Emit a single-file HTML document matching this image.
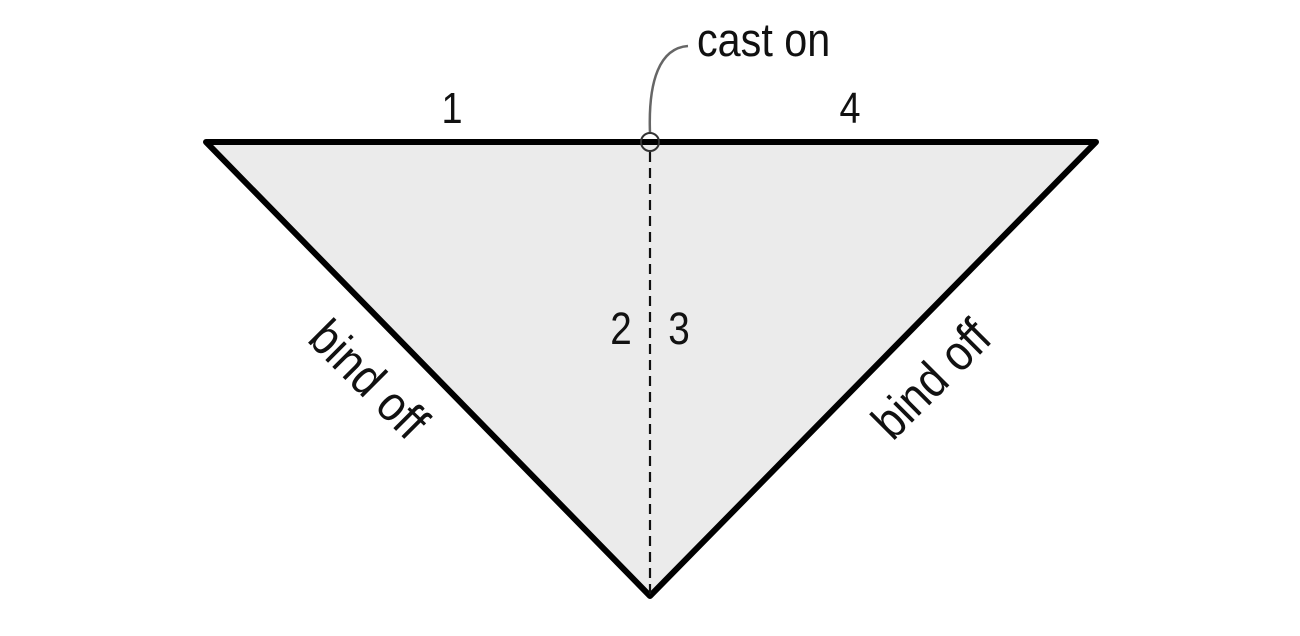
<!DOCTYPE html>
<html><head><meta charset="utf-8"><style>
html,body{margin:0;padding:0;background:#fff;}
svg{display:block;}
text{font-family:"Liberation Sans",sans-serif;fill:#111;}
</style></head><body>
<svg width="1300" height="636" viewBox="0 0 1300 636" xmlns="http://www.w3.org/2000/svg">
<path d="M206,142 L1096,142 L650,596 Z" fill="#ebebeb" stroke="#000" stroke-width="6" stroke-linejoin="round"/>
<line x1="650" y1="152" x2="650" y2="594" stroke="#111" stroke-width="2.2" stroke-dasharray="10,6"/>
<path d="M650,133 C648,80 660,48 688,46" fill="none" stroke="#666" stroke-width="2.5"/>
<circle cx="650" cy="142" r="9" fill="none" stroke="#333" stroke-width="2"/>
<g transform="translate(697,56) scale(0.88,1)"><text x="0" y="0" font-size="47">cast on</text></g>
<g transform="translate(452,123) scale(0.86,1)"><text x="0" y="0" font-size="44" text-anchor="middle">1</text></g>
<g transform="translate(850,123) scale(0.86,1)"><text x="0" y="0" font-size="44" text-anchor="middle">4</text></g>
<g transform="translate(621,344) scale(0.86,1)"><text x="0" y="0" font-size="45" text-anchor="middle">2</text></g>
<g transform="translate(679,344) scale(0.86,1)"><text x="0" y="0" font-size="45" text-anchor="middle">3</text></g>
<g transform="translate(368,380) rotate(45) scale(0.88,1)"><text x="0" y="16" font-size="50" text-anchor="middle">bind off</text></g>
<g transform="translate(932,380) rotate(-45) scale(0.88,1)"><text x="0" y="16" font-size="50" text-anchor="middle">bind off</text></g>
</svg>
</body></html>
